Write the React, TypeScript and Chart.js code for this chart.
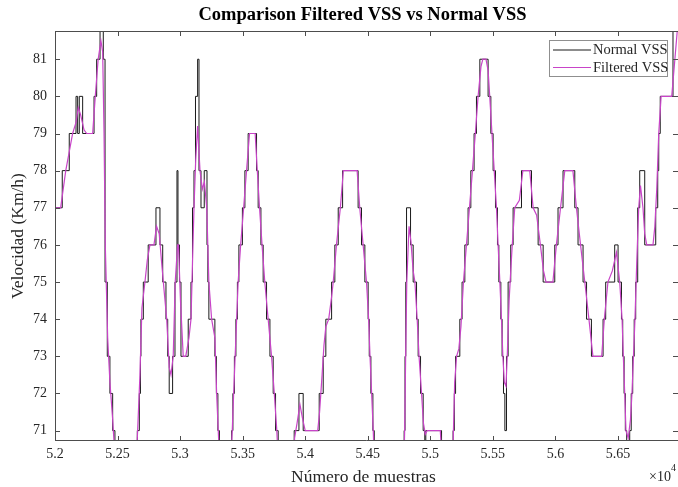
import React, { useEffect, useRef } from "react";
import { Chart, registerables } from "chart.js";
Chart.register(...registerables);

// ---- Data (sample number, speed km/h) ----
const normalX = [
  52000, 52058, 52114, 52168, 52181, 52194, 52221, 52312, 52333, 52360, 52386, 52400, 52418, 52439, 52461, 52479,
  52658, 52674, 52683, 52687, 52706, 52745, 52807, 52839, 52861, 52887, 52901, 52913, 52940, 52959, 52975, 52983,
  52995, 53007, 53065, 53087, 53099, 53111, 53123, 53140, 53151, 53167, 53193, 53215, 53222, 53230, 53278, 53290,
  53302, 53314, 53412, 53422, 53434, 53446, 53458, 53470, 53498, 53518, 53544, 53611, 53624, 53646, 53664, 53691,
  53718, 53744, 53763, 53784, 53912, 53950, 53984, 54112, 54144, 54165, 54211, 54237, 54264, 54299, 54423, 54450,
  54477, 54503, 54512, 54525, 54541, 54552, 54791, 54798, 54804, 54810, 54842, 54863, 54890, 54903, 54922, 54943,
  54956, 54964, 55090, 55182, 55192, 55202, 55236, 55254, 55276, 55302, 55324, 55350, 55369, 55396, 55462, 55484,
  55502, 55521, 55537, 55548, 55564, 55574, 55585, 55596, 55609, 55622, 55643, 55662, 55729, 55809, 55862, 55902,
  55995, 56021, 56061, 56155, 56181, 56221, 56249, 56288, 56381, 56402, 56474, 56501, 56528, 56538, 56549, 56559,
  56570, 56594, 56606, 56618, 56630, 56642, 56658, 56674, 56714, 56802, 56818, 56826, 56838, 56940, 56980,
];
const normalY = [
  77, 78, 79, 80, 79, 80, 79, 80, 81, 82, 81, 75, 73, 72, 71, 69,
  71, 72, 73, 74, 75, 76, 77, 76, 75, 74, 73, 72, 73, 75, 78, 76,
  75, 73, 74, 75, 77, 78, 80, 81, 78, 77, 78, 76, 75, 74, 73, 72,
  71, 69, 71, 72, 73, 74, 75, 76, 77, 78, 79, 78, 77, 76, 75, 74,
  73, 72, 71, 69, 71, 72, 71, 72, 73, 74, 75, 76, 77, 78, 77, 76,
  75, 74, 73, 72, 71, 69, 71, 73, 75, 77, 76, 75, 74, 73, 72, 71,
  69, 71, 69, 71, 72, 73, 74, 75, 76, 77, 78, 79, 80, 81, 80, 79,
  78, 77, 76, 75, 74, 73, 72, 71, 73, 75, 76, 77, 78, 77, 76, 75,
  76, 77, 78, 77, 76, 75, 74, 73, 74, 75, 76, 75, 74, 73, 72, 71,
  70, 71, 72, 73, 74, 75, 77, 78, 76, 77, 78, 79, 80, 82, 82,
];

const filteredX = [
  52000, 52045, 52086, 52141, 52168, 52186, 52205, 52232, 52253, 52301, 52322, 52345, 52367, 52381, 52392, 52402,
  52421, 52439, 52461, 52479, 52500, 52640, 52658, 52679, 52695, 52719, 52738, 52759, 52791, 52812, 52833, 52853,
  52874, 52893, 52913, 52927, 52945, 52961, 52980, 52987, 53003, 53025, 53045, 53071, 53087, 53099, 53111, 53125,
  53140, 53159, 53178, 53194, 53213, 53230, 53252, 53278, 53292, 53305, 53320, 53400, 53410, 53417, 53428, 53440,
  53452, 53464, 53484, 53508, 53531, 53555, 53600, 53617, 53635, 53655, 53677, 53704, 53731, 53753, 53773, 53790,
  53905, 53915, 53935, 53958, 53980, 54000, 54100, 54115, 54135, 54150, 54165, 54188, 54211, 54224, 54250, 54281,
  54305, 54415, 54436, 54463, 54490, 54507, 54518, 54531, 54544, 54556, 54785, 54795, 54803, 54812, 54830, 54845,
  54863, 54877, 54895, 54910, 54930, 54945, 54960, 54975, 55080, 55093, 55100, 55175, 55185, 55195, 55210, 55228,
  55245, 55265, 55289, 55313, 55337, 55360, 55382, 55405, 55420, 55445, 55462, 55475, 55493, 55511, 55529, 55542,
  55556, 55569, 55580, 55592, 55605, 55615, 55630, 55643, 55655, 55675, 55712, 55740, 55795, 55822, 55850, 55880,
  55905, 55925, 55980, 56008, 56041, 56075, 56140, 56168, 56201, 56235, 56268, 56300, 56370, 56391, 56420, 56455,
  56488, 56514, 56533, 56543, 56554, 56564, 56582, 56600, 56612, 56624, 56636, 56650, 56666, 56680, 56700, 56714,
  56730, 56780, 56795, 56810, 56826, 56845, 56930, 56955, 56980,
];
const filteredY = [
  77, 77, 78, 79, 79.3, 79.7, 79.5, 79.1, 79, 79, 80, 81, 81.5, 81.2, 79, 76,
  73.5, 72.3, 71.3, 70.3, 69.5, 69.5, 70.8, 72.5, 74.3, 75, 75.6, 76, 76, 76.5, 76.3, 75.5,
  74.7, 74, 72.7, 72.5, 73, 75, 76, 76, 74.5, 73, 73, 73.5, 74, 75.5, 77, 78.3,
  79.2, 78, 77.5, 77.7, 77, 75, 74, 73.5, 72, 71, 69.8, 69.5, 70.5, 71, 72, 73,
  74, 75, 76, 77, 78, 79, 79, 78, 77, 76, 75, 74, 73, 72, 71, 69.8,
  69.5, 70.8, 71.2, 71.7, 71.3, 71, 71, 71.5, 72.5, 73.3, 73.8, 74, 74.6, 75, 76, 77,
  78, 78, 77, 76, 75, 74, 73, 72, 71, 69.8, 69.5, 71, 73, 75, 76.5, 76.1,
  75.3, 75, 74, 73, 72, 71.2, 70.9, 71, 71, 70.2, 69.5, 69.5, 71, 72.3, 73, 73.2,
  73.8, 75, 76, 77, 78, 79, 80, 80.8, 81, 81, 80.7, 80, 79, 78, 77, 76,
  75, 74, 73, 72.3, 72.2, 73, 74.5, 75.3, 76, 77, 77.2, 78, 78, 77, 76.8, 76,
  75.3, 75, 75, 76, 77, 78, 78, 77, 76, 75, 74, 73, 73, 74, 75, 75.3,
  75.8, 75, 74, 73, 72, 71, 70.8, 71.3, 72, 73, 74, 75.5, 77, 77.6, 77, 76.3,
  76, 76, 76.5, 77.5, 79, 80, 80, 81, 82,
];

const yTicks = [71, 72, 73, 74, 75, 76, 77, 78, 79, 80, 81];
const xTicks = [52000, 52500, 53000, 53500, 54000, 54500, 55000, 55500, 56000, 56500];
const xTickLabels = ["5.2", "5.25", "5.3", "5.35", "5.4", "5.45", "5.5", "5.55", "5.6", "5.65"];

const seriesNames = ["Normal VSS", "Filtered VSS"];
const titleText = "Comparison Filtered VSS vs Normal VSS";
const xTitle = "Número de muestras";
const yTitle = "Velocidad (Km/h)";

const X_MIN = 52000;
const X_MAX = 56980;
const Y_MIN = 70.72;
const Y_MAX = 81.76;

const SERIF = '"Liberation Serif", "Times New Roman", serif';
const TEXT = "#262626";
const AXIS = "#4d4d4d";
const NORMAL_COLOR = "#1a1a1a";
const FILTERED_COLOR = "#c844c8";

const decorPlugin = {
  id: "matlabDecor",
  afterDatasetsDraw(chart: any) {
    const { ctx, chartArea: a, scales } = chart;
    const xs = scales.x;
    const ys = scales.y;
    ctx.save();
    ctx.strokeStyle = AXIS;
    ctx.lineWidth = 1;
    // frame (left, top, bottom)
    ctx.beginPath();
    ctx.moveTo(a.left + 0.5, a.top + 0.5);
    ctx.lineTo(a.left + 0.5, a.bottom - 0.5);
    ctx.lineTo(a.right, a.bottom - 0.5);
    ctx.moveTo(a.left + 0.5, a.top + 0.5);
    ctx.lineTo(a.right, a.top + 0.5);
    ctx.stroke();
    // inward ticks
    const tl = 5;
    ctx.beginPath();
    for (const v of xTicks) {
      const px = Math.round(xs.getPixelForValue(v)) + 0.5;
      ctx.moveTo(px, a.bottom);
      ctx.lineTo(px, a.bottom - tl);
      ctx.moveTo(px, a.top);
      ctx.lineTo(px, a.top + tl);
    }
    for (const v of yTicks) {
      const py = Math.round(ys.getPixelForValue(v)) + 0.5;
      ctx.moveTo(a.left, py);
      ctx.lineTo(a.left + tl, py);
      ctx.moveTo(a.right, py);
      ctx.lineTo(a.right - tl, py);
    }
    ctx.stroke();

    // legend box
    const lx = 549.5, ly = 40.5, lw = 118, lh = 36;
    ctx.fillStyle = "#ffffff";
    ctx.fillRect(lx, ly, lw, lh);
    ctx.strokeStyle = "#8f8f8f";
    ctx.strokeRect(lx, ly, lw, lh);
    const rows = [
      { name: seriesNames[0], color: NORMAL_COLOR, y: 50 },
      { name: seriesNames[1], color: FILTERED_COLOR, y: 67.5 },
    ];
    ctx.font = `14.5px ${SERIF}`;
    ctx.textBaseline = "middle";
    ctx.textAlign = "left";
    for (const r of rows) {
      ctx.strokeStyle = r.color;
      ctx.lineWidth = 1.2;
      ctx.beginPath();
      ctx.moveTo(553, r.y);
      ctx.lineTo(591, r.y);
      ctx.stroke();
      ctx.fillStyle = TEXT;
      ctx.fillText(r.name, 593, r.y + 0.5);
    }

    // title
    const cx = (a.left + a.right) / 2;
    ctx.fillStyle = "#000";
    ctx.textAlign = "center";
    ctx.font = `bold 18.5px ${SERIF}`;
    ctx.fillText(titleText, cx - 4, 15);

    // x title
    ctx.fillStyle = TEXT;
    ctx.font = `17.5px ${SERIF}`;
    ctx.fillText(xTitle, cx - 3, 477);

    // x10^4
    ctx.textAlign = "left";
    ctx.font = `14px ${SERIF}`;
    ctx.fillText("×10", 649, 477);
    ctx.font = `10px ${SERIF}`;
    ctx.fillText("4", 671, 468);

    // y title
    ctx.save();
    ctx.translate(18, (a.top + a.bottom) / 2);
    ctx.rotate(-Math.PI / 2);
    ctx.textAlign = "center";
    ctx.font = `17.5px ${SERIF}`;
    ctx.fillText(yTitle, 0, 0);
    ctx.restore();

    ctx.restore();
  },
};

export default function App() {
  const ref = useRef<HTMLCanvasElement | null>(null);
  useEffect(() => {
    if (!ref.current) return;
    const normalData = normalX.map((x, i) => ({ x, y: normalY[i] }));
    const filteredData = filteredX.map((x, i) => ({ x, y: filteredY[i] }));
    const chart = new Chart(ref.current, {
      type: "line",
      data: {
        datasets: [
          {
            label: seriesNames[0],
            data: normalData,
            borderColor: NORMAL_COLOR,
            borderWidth: 1,
            pointRadius: 0,
            stepped: "before",
            fill: false,
            order: 1,
          },
          {
            label: seriesNames[1],
            data: filteredData,
            borderColor: FILTERED_COLOR,
            borderWidth: 1.2,
            pointRadius: 0,
            tension: 0,
            fill: false,
            order: 0,
          },
        ],
      },
      options: {
        responsive: false,
        animation: false,
        devicePixelRatio: 1,
        parsing: false as any,
        layout: { padding: { top: 31, left: 0, right: 0, bottom: 0 } },
        plugins: {
          legend: { display: false },
          title: { display: false },
          tooltip: { enabled: false },
        },
        scales: {
          x: {
            type: "linear",
            min: X_MIN,
            max: X_MAX,
            grid: { display: false, drawTicks: false },
            border: { display: false },
            afterBuildTicks: (scale: any) => {
              scale.ticks = xTicks.map((v) => ({ value: v }));
            },
            afterFit: (scale: any) => {
              scale.height = 46;
            },
            ticks: {
              padding: 5,
              maxRotation: 0,
              autoSkip: false,
              color: TEXT,
              font: { family: SERIF, size: 14 },
              callback: (_v: any, i: number) => xTickLabels[i],
            },
          },
          y: {
            type: "linear",
            min: Y_MIN,
            max: Y_MAX,
            grid: { display: false, drawTicks: false },
            border: { display: false },
            afterBuildTicks: (scale: any) => {
              scale.ticks = yTicks.map((v) => ({ value: v }));
            },
            afterFit: (scale: any) => {
              scale.width = 55;
            },
            ticks: {
              padding: 8,
              autoSkip: false,
              color: TEXT,
              font: { family: SERIF, size: 14 },
              callback: (v: any) => String(v),
            },
          },
        },
      },
      plugins: [decorPlugin],
    });
    return () => chart.destroy();
  }, []);
  return (
    <div style={{ position: "absolute", left: 0, top: 0, width: 678, height: 487, background: "#fff" }}>
      <canvas ref={ref} width={678} height={487} style={{ display: "block" }} />
    </div>
  );
}
